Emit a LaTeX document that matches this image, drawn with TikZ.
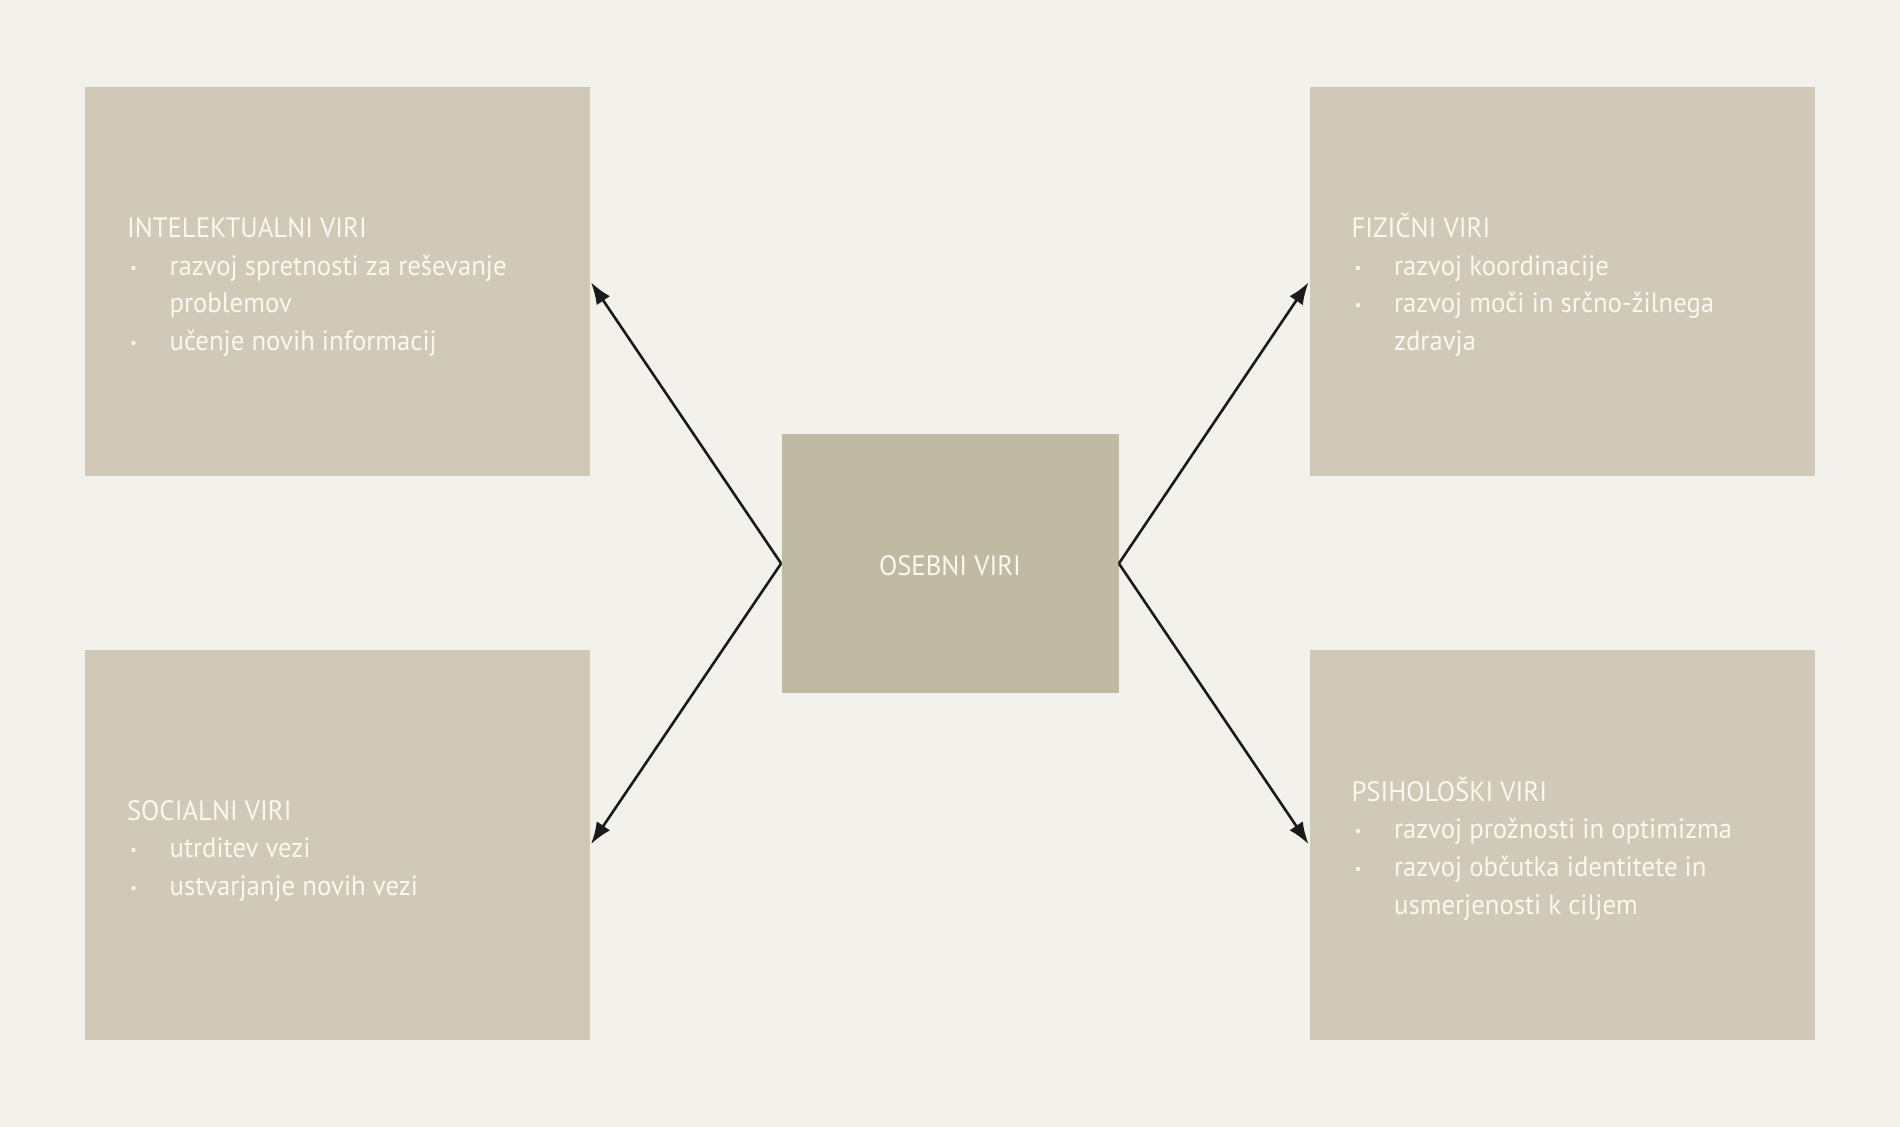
\documentclass[tikz,border=0pt]{standalone}
\usepackage{fontspec}
\setmainfont[FakeStretch=0.955]{PT Sans}
\usetikzlibrary{arrows.meta}
\definecolor{bgc}{HTML}{F2F1EC}
\definecolor{boxc}{HTML}{D0C9B7}
\definecolor{cboxc}{HTML}{C0B9A3}
\definecolor{txtc}{HTML}{FAF7EF}
\definecolor{arrc}{HTML}{1A1A1A}
\newcommand\bul{\makebox[21.3pt][l]{\hspace{1.5pt}\raisebox{0.15ex}{\fontsize{8}{8}\selectfont •}}}
\newcommand\ind{\hspace*{21.3pt}}
\newcommand\boxtext[1]{\raisebox{-1.7pt}[\height][\depth]{\begin{minipage}{210.5pt}\raggedright\vphantom{ČŠ}#1\end{minipage}}}
\tikzset{
  resbox/.style={fill=boxc, draw=none, minimum width=252.5pt, minimum height=194.5pt,
    inner xsep=21pt, inner ysep=0pt, text=txtc,
    font=\fontsize{14}{18.8}\selectfont},
  centbox/.style={fill=cboxc, draw=none, minimum width=168.5pt, minimum height=129.5pt,
    text=txtc, font=\fontsize{14}{18.8}\selectfont},
  conn/.style={draw=arrc, line width=1.3pt, -{Latex[length=11pt,width=8pt]}, shorten >=0.5pt}
}
\begin{document}
\begin{tikzpicture}[x=0.5pt,y=-0.5pt]
\fill[bgc] (0,0) rectangle (1900,1127);
\useasboundingbox (0,0) rectangle (1900,1127);

\node[resbox] (tl) at (337.5,281.5) {\boxtext{INTELEKTUALNI VIRI\\
\bul razvoj spretnosti za reševanje\\
\ind problemov\\
\bul učenje novih informacij}};

\node[resbox] (bl) at (337.5,845) {\boxtext{SOCIALNI VIRI\\
\bul utrditev vezi\\
\bul ustvarjanje novih vezi}};

\node[resbox] (tr) at (1562,281.5) {\boxtext{FIZIČNI VIRI\\
\bul razvoj koordinacije\\
\bul razvoj moči in srčno-žilnega\\
\ind zdravja}};

\node[resbox] (br) at (1562,845) {\boxtext{PSIHOLOŠKI VIRI\\
\bul razvoj prožnosti in optimizma\\
\bul razvoj občutka identitete in\\
\ind usmerjenosti k ciljem}};

\node[centbox] (c) at (950,563.5) {\raisebox{-1pt}[\height][\depth]{OSEBNI VIRI}};

\draw[conn] (c.west) -- (tl.east);
\draw[conn] (c.west) -- (bl.east);
\draw[conn] (c.east) -- (tr.west);
\draw[conn] (c.east) -- (br.west);
\end{tikzpicture}
\end{document}
